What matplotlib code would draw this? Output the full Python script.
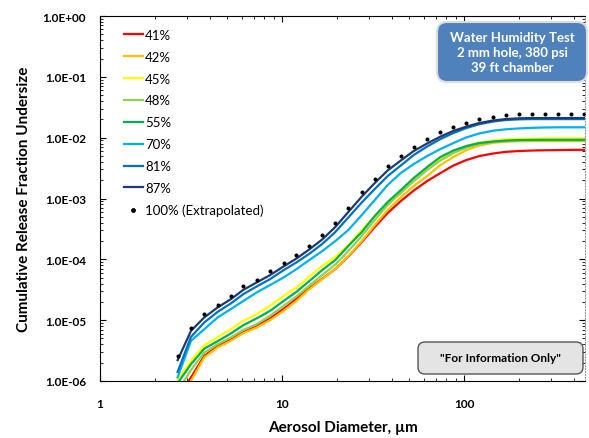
import matplotlib
matplotlib.use("Agg")
import matplotlib.pyplot as plt
from matplotlib.patches import FancyBboxPatch

plt.rcParams['font.family'] = ['Lato', 'DejaVu Sans']

# aerosol diameter (um)
diameter = [2.67, 3.16, 3.74, 4.43, 5.23, 6.13, 7.26, 8.59, 10.2, 12.0, 14.1, 16.6,
            19.6, 23.1, 27.4, 32.3, 38.0, 44.9, 52.9, 62.6, 74.1, 87.3, 103, 121,
            144, 169, 200, 235, 277, 328, 387, 456]

rh_41 = [5.42e-7, 1.14e-6, 2.59e-6, 3.73e-6, 4.78e-6, 6.35e-6, 7.96e-6, 1.07e-5,
         1.53e-5, 2.24e-5, 3.33e-5, 4.78e-5, 6.90e-5, 1.11e-4, 1.92e-4, 3.39e-4,
         5.75e-4, 9.06e-4, 1.35e-3, 1.93e-3, 2.62e-3, 3.48e-3, 4.29e-3, 4.98e-3,
         5.48e-3, 5.84e-3, 6.03e-3, 6.14e-3, 6.21e-3, 6.25e-3, 6.30e-3, 6.32e-3]
rh_42 = [5.02e-7, 1.00e-6, 2.44e-6, 3.56e-6, 4.57e-6, 6.11e-6, 7.59e-6, 1.00e-5,
         1.42e-5, 2.07e-5, 3.21e-5, 4.69e-5, 6.90e-5, 1.13e-4, 1.99e-4, 3.65e-4,
         6.44e-4, 1.05e-3, 1.60e-3, 2.33e-3, 3.54e-3, 4.80e-3, 6.25e-3, 7.41e-3,
         8.21e-3, 8.59e-3, 8.73e-3, 8.79e-3, 8.79e-3, 8.79e-3, 8.79e-3, 8.79e-3]
rh_45 = [1.05e-6, 2.14e-6, 3.88e-6, 5.25e-6, 7.11e-6, 9.73e-6, 1.26e-5, 1.72e-5,
         2.51e-5, 3.45e-5, 5.19e-5, 7.73e-5, 1.09e-4, 1.71e-4, 3.02e-4, 5.14e-4,
         8.40e-4, 1.32e-3, 2.08e-3, 3.16e-3, 4.45e-3, 5.90e-3, 7.28e-3, 8.30e-3,
         8.95e-3, 9.38e-3, 9.60e-3, 9.66e-3, 9.74e-3, 9.74e-3, 9.74e-3, 9.74e-3]
rh_48 = [6.79e-7, 1.51e-6, 2.94e-6, 4.03e-6, 5.19e-6, 6.92e-6, 8.59e-6, 1.18e-5,
         1.72e-5, 2.45e-5, 3.69e-5, 5.50e-5, 8.18e-5, 1.36e-4, 2.41e-4, 4.42e-4,
         7.78e-4, 1.23e-3, 1.93e-3, 2.93e-3, 4.20e-3, 5.58e-3, 6.87e-3, 7.85e-3,
         8.47e-3, 8.79e-3, 8.95e-3, 9.03e-3, 9.06e-3, 9.06e-3, 9.06e-3, 9.06e-3]
rh_55 = [9.20e-7, 1.89e-6, 3.40e-6, 4.52e-6, 6.04e-6, 8.28e-6, 1.07e-5, 1.42e-5,
         2.07e-5, 2.92e-5, 4.38e-5, 6.64e-5, 9.71e-5, 1.65e-4, 2.80e-4, 5.14e-4,
         8.73e-4, 1.37e-3, 2.17e-3, 3.28e-3, 4.80e-3, 6.14e-3, 7.28e-3, 8.15e-3,
         8.63e-3, 8.95e-3, 9.14e-3, 9.20e-3, 9.23e-3, 9.23e-3, 9.23e-3, 9.23e-3]
rh_70 = [1.15e-6, 4.57e-6, 7.11e-6, 1.11e-5, 1.52e-5, 2.07e-5, 2.86e-5, 3.77e-5,
         5.04e-5, 6.90e-5, 9.71e-5, 1.36e-4, 1.99e-4, 3.02e-4, 5.33e-4, 9.42e-4,
         1.66e-3, 2.62e-3, 3.68e-3, 4.98e-3, 6.49e-3, 8.15e-3, 1.01e-2, 1.17e-2,
         1.30e-2, 1.37e-2, 1.42e-2, 1.45e-2, 1.47e-2, 1.48e-2, 1.48e-2, 1.48e-2]
rh_81 = [1.41e-6, 5.31e-6, 9.16e-6, 1.37e-5, 1.88e-5, 2.68e-5, 3.58e-5, 4.72e-5,
         6.64e-5, 8.89e-5, 1.23e-4, 1.78e-4, 2.80e-4, 4.85e-4, 8.57e-4, 1.43e-3,
         2.33e-3, 3.48e-3, 5.18e-3, 7.14e-3, 9.48e-3, 1.19e-2, 1.44e-2, 1.66e-2,
         1.84e-2, 1.95e-2, 2.00e-2, 2.02e-2, 2.02e-2, 2.02e-2, 2.02e-2, 2.02e-2]
rh_87 = [2.20e-6, 6.67e-6, 1.11e-5, 1.62e-5, 2.21e-5, 3.15e-5, 4.17e-5, 5.50e-5,
         7.64e-5, 1.03e-4, 1.45e-4, 2.11e-4, 3.39e-4, 5.97e-4, 1.07e-3, 1.79e-3,
         2.88e-3, 4.20e-3, 6.03e-3, 8.00e-3, 1.04e-2, 1.29e-2, 1.52e-2, 1.74e-2,
         1.91e-2, 2.02e-2, 2.08e-2, 2.10e-2, 2.10e-2, 2.10e-2, 2.10e-2, 2.10e-2]
rh_100 = [2.56e-6, 7.38e-6, 1.24e-5, 1.79e-5, 2.48e-5, 3.58e-5, 4.60e-5, 6.32e-5,
          8.65e-5, 1.19e-4, 1.67e-4, 2.47e-4, 3.98e-4, 6.95e-4, 1.26e-3, 2.08e-3,
          3.37e-3, 4.98e-3, 7.08e-3, 9.38e-3, 1.22e-2, 1.49e-2, 1.76e-2, 2.00e-2,
          2.21e-2, 2.38e-2, 2.44e-2, 2.44e-2, 2.44e-2, 2.44e-2, 2.47e-2, 2.47e-2]

series = [("41%", rh_41, "#FF0000"), ("42%", rh_42, "#FFC000"),
          ("45%", rh_45, "#FFFF00"), ("48%", rh_48, "#92D050"),
          ("55%", rh_55, "#00B050"), ("70%", rh_70, "#00B0F0"),
          ("81%", rh_81, "#0070C0"), ("87%", rh_87, "#1F3A70")]

fig = plt.figure(figsize=(5.89, 4.39), dpi=100)
ax = fig.add_axes([100/589, 57/439, 485/589, 365/439])

for label, vals, col in series:
    ax.plot(diameter, vals, color=col, lw=1.6, label=label)
ax.plot(diameter, rh_100, ls='none', marker='o', ms=1.9, color='black',
        label="100% (Extrapolated)")

ax.set_xscale('log')
ax.set_yscale('log')
ax.set_xlim(1, 462)
ax.set_ylim(1e-6, 1)
ax.set_xticks([1, 10, 100])
ax.set_xticklabels(['1', '10', '100'])
ax.set_yticks([1e-6, 1e-5, 1e-4, 1e-3, 1e-2, 1e-1, 1])
ax.set_yticklabels(['1.0E-06', '1.0E-05', '1.0E-04', '1.0E-03',
                    '1.0E-02', '1.0E-01', '1.0E+00'])
ax.tick_params(which='both', direction='in', top=True, right=True,
               labelsize=8.5, colors='black')
ax.tick_params(which='major', length=4, width=0.8)
ax.tick_params(which='minor', length=2.5, width=0.6)
ax.tick_params(axis='y', pad=10)
ax.tick_params(axis='x', pad=12)
for t in ax.get_xticklabels() + ax.get_yticklabels():
    t.set_fontweight('bold')
ax.spines['right'].set_color('#999999')
ax.spines['right'].set_linestyle(':')

ax.set_xlabel("Aerosol Diameter, \u00b5m", fontsize=11, fontweight='bold', labelpad=8)
ax.set_ylabel("Cumulative Release Fraction Undersize", fontsize=11,
              fontweight='bold', labelpad=8)

ax.legend(loc='upper left', bbox_to_anchor=(0.049, 0.965), frameon=False,
          fontsize=9.5, handlelength=1.45, handletextpad=0.15, labelspacing=0.75,
          borderaxespad=0, borderpad=0, markerscale=1.3)

# info boxes
box1 = FancyBboxPatch((4.37, 3.56), 1.50, 0.60, boxstyle="round,pad=0,rounding_size=0.1",
                      transform=fig.dpi_scale_trans, facecolor='#4F81BD',
                      edgecolor='#DDDDDD', lw=1.5)
fig.add_artist(box1)
fig.text(512/589, 1 - 53/439, "Water Humidity Test\n2 mm hole, 380 psi\n39 ft chamber",
         ha='center', va='center', color='white', fontsize=9.5, fontweight='bold',
         linespacing=1.25)

box2 = FancyBboxPatch((4.18, 0.64), 1.65, 0.32, boxstyle="round,pad=0,rounding_size=0.07",
                      transform=fig.dpi_scale_trans, facecolor='#E4E4E4',
                      edgecolor='#555555', lw=1.0)
fig.add_artist(box2)
fig.text(500/589, 1 - 359/439, '"For Information Only"', ha='center', va='center',
         color='black', fontsize=8.5, fontweight='bold')

fig.savefig("out.png", dpi=100)
